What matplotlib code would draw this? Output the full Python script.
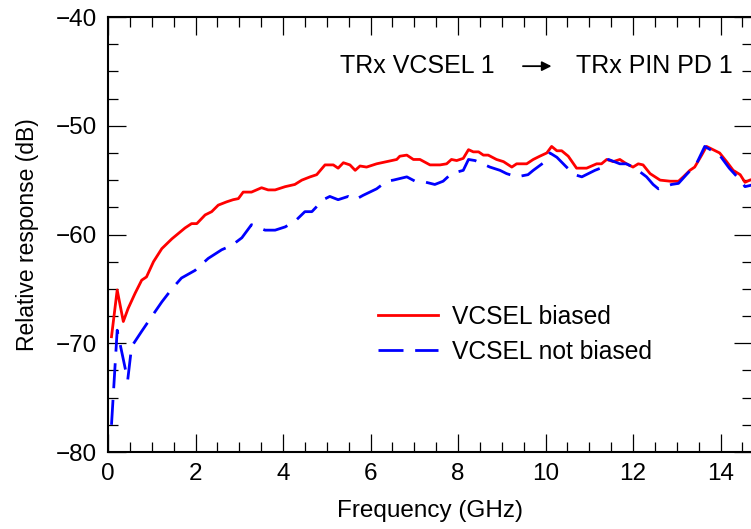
import numpy as np
import matplotlib
matplotlib.use("Agg")
import matplotlib.pyplot as plt
from matplotlib.ticker import MultipleLocator

plt.rcParams['font.family'] = ['Liberation Sans', 'DejaVu Sans']

# VCSEL biased (red, solid)
f_biased = [0.08, 0.21, 0.35, 0.46, 0.62, 0.77, 0.88, 1.04, 1.23, 1.46, 1.61, 1.76,
            1.91, 2.03, 2.22, 2.37, 2.52, 2.71, 2.86, 2.98, 3.09, 3.28, 3.51, 3.66,
            3.82, 4.05, 4.27, 4.43, 4.62, 4.77, 4.96, 5.15, 5.26, 5.38, 5.53, 5.65,
            5.76, 5.91, 6.14, 6.37, 6.6, 6.67, 6.83, 6.98, 7.13, 7.36, 7.59, 7.74,
            7.85, 7.97, 8.12, 8.24, 8.35, 8.47, 8.58, 8.69, 8.88, 9.04, 9.23, 9.34,
            9.57, 9.72, 9.87, 10.03, 10.14, 10.26, 10.37, 10.52, 10.71, 10.94, 11.17,
            11.28, 11.4, 11.55, 11.7, 11.85, 12.0, 12.12, 12.23, 12.39, 12.62, 12.85,
            13.04, 13.15, 13.3, 13.41, 13.57, 13.68, 13.83, 13.98, 14.14, 14.29, 14.45,
            14.56, 14.67, 14.75]
r_biased = [-69.4, -65.1, -68.0, -66.8, -65.4, -64.2, -63.9, -62.5, -61.3, -60.4, -59.9, -59.4,
            -59.0, -59.0, -58.2, -57.9, -57.3, -57.0, -56.8, -56.7, -56.1, -56.1, -55.7, -55.9,
            -55.9, -55.6, -55.4, -55.0, -54.7, -54.5, -53.6, -53.6, -53.9, -53.4, -53.6, -54.1,
            -53.7, -53.8, -53.5, -53.3, -53.1, -52.8, -52.7, -53.1, -53.1, -53.6, -53.6, -53.5,
            -53.1, -53.2, -53.0, -52.2, -52.4, -52.4, -52.7, -52.7, -53.1, -53.3, -53.8, -53.5,
            -53.5, -53.1, -52.8, -52.5, -51.9, -52.3, -52.3, -52.8, -53.9, -53.9, -53.5,
            -53.5, -53.1, -53.3, -53.1, -53.5, -53.8, -53.5, -53.6, -54.4, -55.0, -55.1,
            -55.1, -54.7, -54.1, -53.8, -52.7, -51.9, -52.2, -52.5, -53.3, -54.1, -54.5,
            -55.2, -55.0, -54.9]

# VCSEL not biased (blue, dashed)
f_unbiased = [0.08, 0.21, 0.45, 0.54, 0.77, 0.99, 1.23, 1.46, 1.68, 1.99, 2.29, 2.6,
              2.83, 3.06, 3.28, 3.59, 3.82, 4.05, 4.27, 4.5, 4.66, 4.92, 5.07, 5.26,
              5.49, 5.65, 5.83, 6.14, 6.37, 6.52, 6.83, 7.02, 7.17, 7.47, 7.66, 7.85,
              8.12, 8.24, 8.39, 8.73, 8.96, 9.11, 9.34, 9.6, 9.72, 9.99, 10.1, 10.26,
              10.48, 10.67, 10.83, 11.13, 11.32, 11.44, 11.7, 11.85, 12.05, 12.31, 12.46,
              12.58, 12.88, 13.04, 13.22, 13.45, 13.64, 13.98, 14.2, 14.45, 14.56, 14.67,
              14.75]
r_unbiased = [-77.5, -68.8, -73.4, -70.3, -68.9, -67.6, -66.2, -65.0, -64.0, -63.3, -62.2, -61.4,
              -61.0, -60.3, -59.1, -59.6, -59.6, -59.3, -58.8, -57.9, -57.9, -56.8, -56.5, -56.8,
              -56.5, -56.8, -56.4, -55.8, -55.1, -55.0, -54.7, -55.1, -55.1, -55.4, -55.1, -54.4,
              -54.1, -53.1, -53.2, -53.8, -54.1, -54.4, -54.7, -54.5, -54.1, -53.3, -52.5, -52.9,
              -53.8, -54.5, -54.7, -54.1, -53.8, -53.1, -53.5, -53.5, -53.9, -54.7, -55.4,
              -55.8, -55.4, -55.3, -54.5, -53.5, -51.9, -52.7, -53.9, -55.0, -55.6, -55.5,
              -55.4]

fig = plt.figure(figsize=(7.51, 5.29), dpi=100)
ax = fig.add_axes([108 / 751, 77 / 529, 644 / 751, 435 / 529])

ax.plot(f_biased, r_biased, color='red', lw=2.0, label='VCSEL biased')
ax.plot(f_unbiased, r_unbiased, color='blue', lw=2.0, linestyle=(0, (9, 4.2)),
        label='VCSEL not biased')

ax.set_xlim(0, 14.72)
ax.set_ylim(-80, -40)
ax.xaxis.set_major_locator(MultipleLocator(2))
ax.xaxis.set_minor_locator(MultipleLocator(0.5))
ax.yaxis.set_major_locator(MultipleLocator(10))
ax.yaxis.set_minor_locator(MultipleLocator(2.5))
ax.tick_params(which='both', direction='in', top=True, right=True, labelsize=17.5, width=0.9)
ax.tick_params(which='major', length=13, pad=8)
ax.tick_params(which='minor', length=7)
for s in ax.spines.values():
    s.set_linewidth(1.5)

ax.set_xlabel('Frequency (GHz)', fontsize=17.5, labelpad=11)
ax.set_ylabel('Relative response (dB)', fontsize=16.5, labelpad=12)

ax.text(0.36, 0.887, 'TRx VCSEL 1', transform=ax.transAxes, fontsize=18, va='center')
ax.text(0.727, 0.887, 'TRx PIN PD 1', transform=ax.transAxes, fontsize=18, va='center')
ax.annotate('', xy=(0.693, 0.887), xytext=(0.64, 0.887), xycoords='axes fraction',
            arrowprops=dict(arrowstyle='-|>', color='k', lw=1.3, mutation_scale=14))

ax.legend(loc='upper left', bbox_to_anchor=(0.419, 0.338), frameon=False, fontsize=17.7,
          handlelength=2.45, handletextpad=0.57, labelspacing=0.44, borderpad=0,
          borderaxespad=0)

fig.savefig('out.png', dpi=100)
